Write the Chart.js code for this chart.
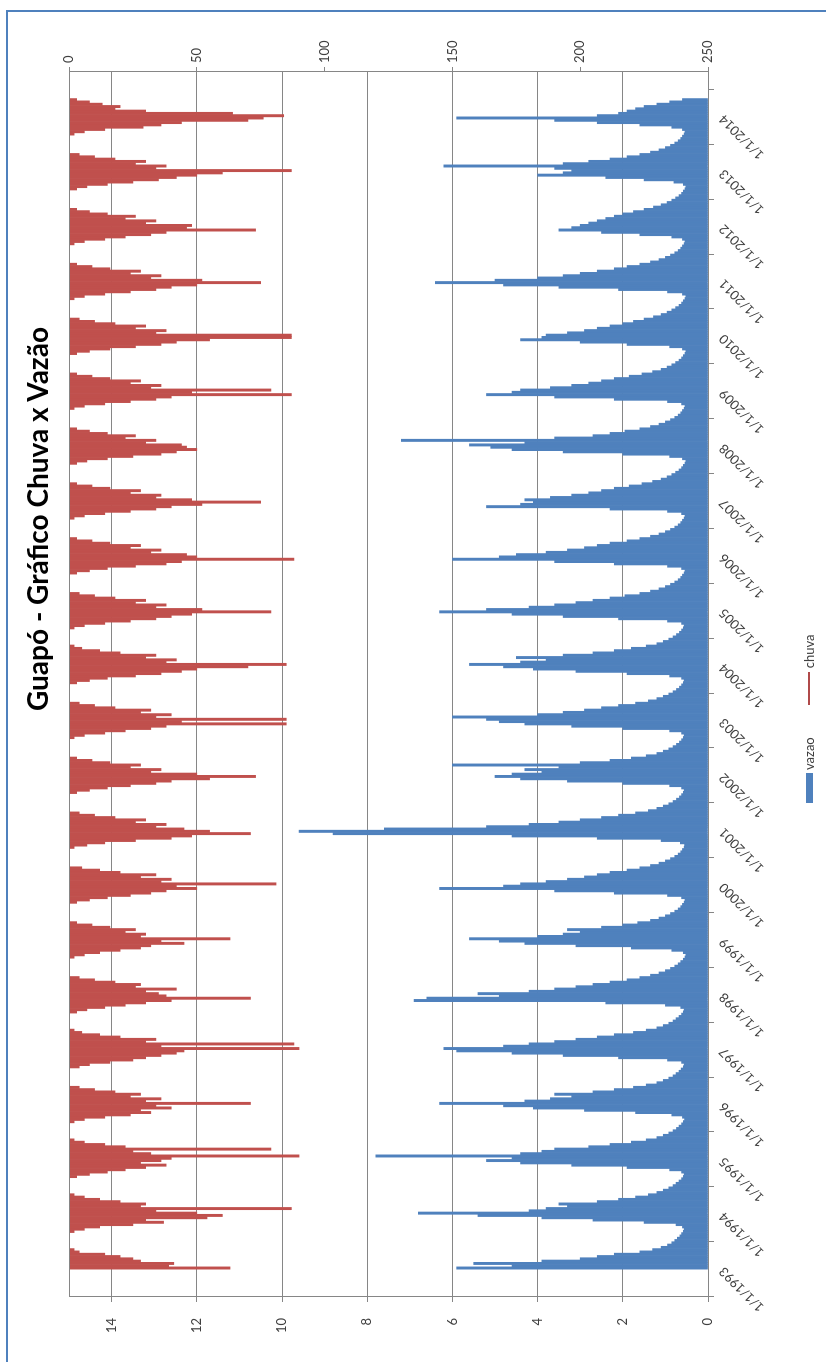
<!DOCTYPE html>
<html>
<head>
<meta charset="utf-8">
<script src="https://cdn.jsdelivr.net/npm/chart.js@4.4.1/dist/chart.umd.min.js"></script>
<style>
  html, body { margin: 0; padding: 0; background: #fff; }
  body { width: 826px; height: 1362px; overflow: hidden; position: relative; }
  /* the chart is laid out landscape and turned a quarter turn counter-clockwise */
  #rot { position: absolute; left: 0; top: 0; width: 1362px; height: 826px; transform-origin: 0 0; transform: translate(0, 1362px) rotate(-90deg); }
  #frame { position: absolute; left: -20px; top: 6px; width: 1372px; height: 900px; border: 2px solid #4f81bd; box-sizing: border-box; }
  #chartBox { position: absolute; left: 0; top: 0; width: 1362px; height: 826px; }
  #title { position: absolute; left: 843px; top: 20px; transform: translateX(-50%); font: bold 28px Lato, sans-serif; white-space: nowrap; color: #000; }
  #legend { position: absolute; left: 559px; top: 801px; font: 13px Lato, sans-serif; color: #404040; display: flex; align-items: center; white-space: nowrap; }
  .keyBox { display: inline-block; width: 30px; height: 7px; background: #4f81bd; margin-right: 3px; }
  .keyLine { display: inline-block; width: 33px; height: 2px; background: #b04a4a; margin: 0 4px 0 32px; }
</style>
</head>
<body>
<div id="rot">
  <div id="frame"></div>
  <div id="chartBox"><canvas id="chart"></canvas></div>
  <div id="title">Guapó - Gráfico Chuva x Vazão</div>
  <div id="legend"><span class="keyBox"></span>vazao<span class="keyLine"></span>chuva</div>
</div>
<script>
// semi-monthly readings (1st and 16th of each month), starting 1/1/1993
const startYear = 1993;
const perYear = 24;

const vazao = [
  // 1993
  5.9,4.6,5.5,3.9,3.0,2.6,2.2,1.6,1.3,1.1,0.95,0.85,0.78,0.72,0.66,0.62,0.58,0.56,0.6,0.75,1.5,2.7,3.9,5.4,
  // 1994
  6.8,4.2,3.8,3.3,3.5,2.6,2.1,1.7,1.4,1.2,1.05,0.92,0.82,0.75,0.68,0.62,0.58,0.56,0.62,0.9,1.9,3.2,4.4,5.2,
  // 1995
  4.6,7.8,4.4,3.9,3.6,2.8,2.3,1.8,1.45,1.2,1.05,0.92,0.82,0.74,0.68,0.62,0.58,0.55,0.6,0.85,1.7,2.9,4.1,4.8,
  // 1996
  6.3,4.3,3.7,3.2,3.6,2.7,2.2,1.75,1.45,1.2,1.05,0.92,0.82,0.75,0.68,0.63,0.58,0.56,0.62,0.95,2.1,3.4,4.6,5.9,
  // 1997
  6.2,4.8,4.2,3.6,3.1,2.6,2.2,1.75,1.45,1.2,1.05,0.92,0.82,0.75,0.68,0.62,0.58,0.56,0.64,1.0,2.4,6.9,6.6,4.9,
  // 1998
  5.4,4.2,3.6,3.1,2.7,2.3,1.9,1.6,1.35,1.15,1.0,0.88,0.78,0.7,0.64,0.58,0.54,0.52,0.58,0.85,1.8,3.1,4.3,4.9,
  // 1999
  5.6,4.0,3.4,3.0,3.3,2.5,2.0,1.65,1.35,1.15,1.0,0.88,0.78,0.7,0.64,0.6,0.56,0.54,0.62,0.95,2.2,3.6,6.3,4.8,
  // 2000
  4.4,3.8,3.3,2.9,2.6,2.3,1.9,1.6,1.35,1.15,1.0,0.88,0.78,0.7,0.64,0.6,0.56,0.55,0.65,1.1,2.6,4.6,8.8,9.6,
  // 2001
  7.6,5.2,4.2,3.5,3.0,2.5,2.1,1.7,1.4,1.2,1.05,0.92,0.82,0.74,0.67,0.62,0.58,0.56,0.62,0.9,2.0,3.3,4.4,5.0,
  // 2002
  4.6,3.9,4.3,3.5,6.0,3.0,2.3,1.8,1.45,1.2,1.05,0.92,0.82,0.74,0.67,0.62,0.58,0.56,0.62,0.9,2.0,3.2,4.3,4.9,
  // 2003
  5.2,6.0,4.0,3.4,2.9,2.5,2.1,1.7,1.4,1.2,1.05,0.92,0.82,0.74,0.67,0.62,0.58,0.56,0.62,0.9,1.9,3.1,4.1,4.8,
  // 2004
  5.6,4.4,3.8,4.5,3.4,2.7,2.2,1.8,1.45,1.2,1.05,0.92,0.82,0.74,0.67,0.62,0.58,0.56,0.62,0.95,2.1,3.4,4.6,6.3,
  // 2005
  5.2,4.2,3.6,3.1,2.7,2.3,1.95,1.6,1.35,1.15,1.0,0.88,0.78,0.7,0.64,0.6,0.56,0.54,0.62,0.95,2.2,3.6,6.0,4.9,
  // 2006
  4.5,3.8,3.3,2.9,2.6,2.3,1.9,1.6,1.35,1.15,1.0,0.88,0.78,0.7,0.64,0.6,0.56,0.54,0.62,0.95,2.3,5.2,4.4,4.1,
  // 2007
  4.3,3.7,3.2,2.8,2.5,2.2,1.85,1.55,1.3,1.1,0.96,0.85,0.76,0.68,0.62,0.58,0.54,0.52,0.6,0.9,2.0,3.4,4.6,5.1,
  // 2008
  5.6,4.3,7.2,3.6,2.7,2.3,1.95,1.6,1.35,1.15,1.0,0.88,0.78,0.7,0.64,0.6,0.56,0.54,0.62,0.95,2.2,3.6,5.2,4.6,
  // 2009
  4.4,3.7,3.2,2.8,2.5,2.2,1.85,1.55,1.3,1.1,0.96,0.85,0.76,0.68,0.62,0.58,0.54,0.52,0.6,0.9,1.9,3.0,4.4,3.9,
  // 2010
  3.8,3.3,2.9,2.6,2.3,2.0,1.75,1.5,1.28,1.1,0.96,0.85,0.76,0.68,0.62,0.58,0.54,0.52,0.6,0.95,2.1,3.5,4.8,6.4,
  // 2011
  5.0,4.0,3.4,3.0,2.6,2.2,1.9,1.6,1.35,1.15,1.0,0.88,0.78,0.7,0.64,0.6,0.56,0.54,0.6,0.85,1.6,2.5,3.5,3.2,
  // 2012
  3.0,2.8,2.6,2.4,2.2,2.0,1.75,1.5,1.28,1.1,0.96,0.85,0.76,0.68,0.62,0.58,0.54,0.52,0.58,0.8,1.5,2.4,4.0,3.4,
  // 2013
  3.2,3.6,6.2,3.4,2.8,2.3,1.9,1.6,1.35,1.15,1.0,0.88,0.78,0.7,0.64,0.6,0.56,0.54,0.6,0.85,1.6,2.6,3.6,5.9,
  // 2014
  2.6,2.1,1.9,1.7,1.5,1.2,0.9,0.6
];

const chuva = [
  // 1993
  63,39,41,28,25,20,14,4,2,0,0,0,0,0,0,0,2,6,12,25,37,30,54,60,
  // 1994
  50,34,87,28,30,20,12,6,2,0,0,0,0,0,0,0,3,8,15,22,30,38,28,36,
  // 1995
  40,90,32,25,79,22,14,6,2,0,0,0,0,0,0,0,2,6,14,24,32,28,40,34,
  // 1996
  71,30,36,24,28,18,10,4,0,0,0,0,0,0,0,0,4,8,16,25,30,36,42,45,
  // 1997
  90,36,88,30,34,20,12,5,2,0,0,0,0,0,0,0,3,7,14,22,30,40,71,38,
  // 1998
  35,30,42,26,28,18,10,4,0,0,0,0,0,0,0,0,2,6,12,20,28,32,45,36,
  // 1999
  63,28,30,22,26,16,9,3,0,0,0,0,0,0,0,0,3,8,15,24,32,38,50,42,
  // 2000
  81,36,40,28,34,20,12,5,0,0,0,0,0,0,0,0,2,7,14,26,40,48,71,55,
  // 2001
  45,34,38,26,30,18,10,4,0,0,0,0,0,0,0,0,3,8,15,24,34,40,55,73,
  // 2002
  50,32,36,24,28,16,9,3,0,0,0,0,0,0,0,0,2,6,14,22,32,38,85,44,
  // 2003
  85,34,40,28,32,18,10,4,0,0,0,0,0,0,0,0,3,8,15,26,36,44,50,70,
  // 2004
  85,38,42,30,34,20,12,5,2,0,0,0,0,0,0,0,2,6,14,24,34,40,48,79,
  // 2005
  52,34,38,26,30,18,10,4,0,0,0,0,0,0,0,0,3,8,15,26,38,44,88,50,
  // 2006
  46,32,36,24,28,16,9,3,0,0,0,0,0,0,0,0,2,6,14,24,34,40,52,75,
  // 2007
  48,34,36,24,28,16,9,3,0,0,0,0,0,0,0,0,3,7,15,25,36,42,50,46,
  // 2008
  44,30,34,22,26,15,8,3,0,0,0,0,0,0,0,0,2,6,14,24,34,40,87,48,
  // 2009
  79,32,36,24,28,16,9,3,0,0,0,0,0,0,0,0,3,8,16,26,36,42,55,87,
  // 2010
  87,34,38,26,30,18,10,4,0,0,0,0,0,0,0,0,2,6,14,24,34,40,50,75,
  // 2011
  52,32,36,24,28,16,9,3,0,0,0,0,0,0,0,0,2,6,14,22,32,38,73,46,
  // 2012
  48,30,34,22,26,15,8,3,0,0,0,0,0,0,0,0,3,7,15,25,35,42,50,60,
  // 2013
  87,34,38,26,30,18,10,4,0,0,0,0,0,0,0,0,2,6,14,29,36,44,70,76,
  // 2014
  84,64,30,18,20,13,8,3
];

const tickFont = { family: 'Lato', size: 13 };
const tickColor = '#404040';
const lineColor = '#868686';

const points = vals => vals.map((v, i) => ({ x: startYear + (i + 0.5) / perYear, y: v }));

// Excel draws a border round the whole plot area
const plotBorder = {
  id: 'plotBorder',
  afterDraw(chart) {
    const a = chart.chartArea, c = chart.ctx;
    c.save();
    c.strokeStyle = lineColor;
    c.lineWidth = 1;
    c.strokeRect(Math.round(a.left) + 0.5, Math.round(a.top) + 0.5, Math.round(a.right - a.left), Math.round(a.bottom - a.top));
    c.restore();
  }
};

new Chart(document.getElementById('chart'), {
  type: 'bar',
  data: {
    datasets: [
      { label: 'vazao', data: points(vazao), yAxisID: 'y', backgroundColor: '#4f81bd', grouped: false, barPercentage: 1, categoryPercentage: 1, borderWidth: 0, order: 2 },
      { label: 'chuva', data: points(chuva), yAxisID: 'y1', backgroundColor: '#c0504d', grouped: false, barPercentage: 1, categoryPercentage: 1, borderWidth: 0, order: 1 }
    ]
  },
  options: {
    responsive: true, maintainAspectRatio: false, animation: false,
    layout: { padding: { top: 69, left: 0, right: 0, bottom: 0 } },
    plugins: { legend: { display: false }, tooltip: { enabled: false } },
    scales: {
      x: {
        type: 'linear', min: 1993, max: 2014.31,
        ticks: { stepSize: 1, includeBounds: false, autoSkip: false, minRotation: 45, maxRotation: 45, padding: 2, font: tickFont, color: tickColor, callback: v => '1/1/' + v },
        grid: { drawOnChartArea: false, tickLength: 6, color: lineColor },
        border: { color: lineColor },
        afterFit: s => { s.height = 118; }
      },
      y: {
        position: 'left', min: 0, max: 15,
        ticks: { stepSize: 2, includeBounds: false, padding: 16, font: tickFont, color: tickColor },
        grid: { color: lineColor, tickLength: 5 },
        border: { color: lineColor },
        afterFit: s => { s.width = 65; }
      },
      y1: {
        position: 'right', reverse: true, min: 0, max: 250,
        ticks: { stepSize: 50, padding: 4, font: tickFont, color: tickColor },
        grid: { drawOnChartArea: false, tickLength: 5, color: lineColor },
        border: { color: lineColor },
        afterFit: s => { s.width = 72; }
      }
    }
  },
  plugins: [plotBorder]
});
</script>
</body>
</html>
